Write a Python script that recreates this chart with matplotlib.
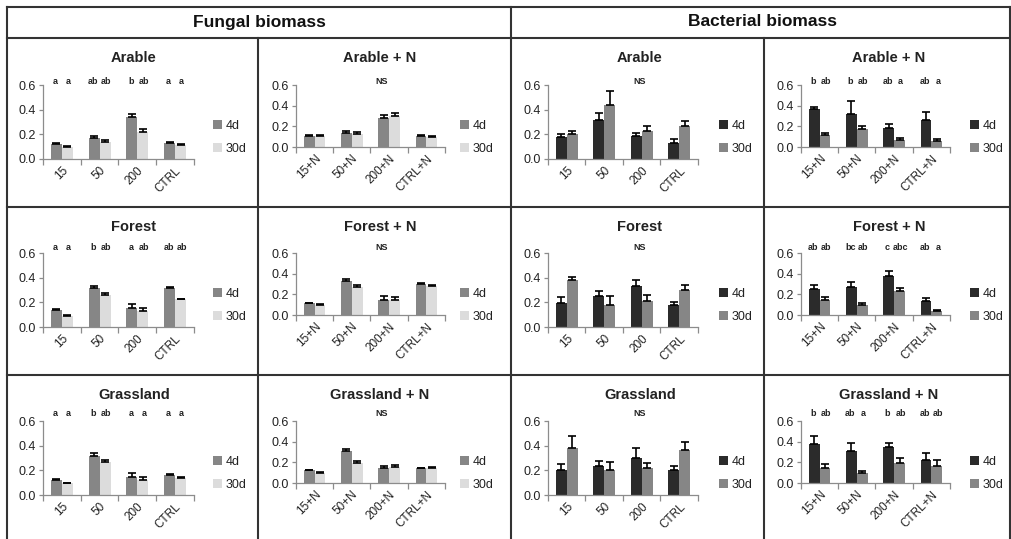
import matplotlib
matplotlib.use("Agg")
import matplotlib.pyplot as plt
import matplotlib.transforms as mtrans
from matplotlib.lines import Line2D
from matplotlib.ticker import FormatStrFormatter
import numpy as np

plt.rcParams['font.family'] = ['Liberation Sans', 'DejaVu Sans']

# categories / series
cats = ["15", "50", "200", "CTRL"]
cats_n = ["15+N", "50+N", "200+N", "CTRL+N"]
series = ["4d", "30d"]

# fungal biomass (mean, upper error)
fa_4d = [0.12, 0.17, 0.34, 0.13]
fa_4d_err = [0.010, 0.015, 0.025, 0.006]
fa_30d = [0.10, 0.14, 0.22, 0.115]
fa_30d_err = [0.006, 0.018, 0.025, 0.004]

fan_4d = [0.11, 0.14, 0.28, 0.11]
fan_4d_err = [0.008, 0.015, 0.030, 0.008]
fan_30d = [0.11, 0.13, 0.30, 0.10]
fan_30d_err = [0.008, 0.012, 0.028, 0.004]

ff_4d = [0.14, 0.32, 0.155, 0.32]
ff_4d_err = [0.006, 0.015, 0.030, 0.006]
ff_30d = [0.09, 0.26, 0.13, 0.225]
ff_30d_err = [0.005, 0.015, 0.025, 0.005]

ffn_4d = [0.115, 0.33, 0.146, 0.30]
ffn_4d_err = [0.005, 0.018, 0.035, 0.008]
ffn_30d = [0.10, 0.27, 0.143, 0.28]
ffn_30d_err = [0.006, 0.025, 0.033, 0.006]

fg_4d = [0.12, 0.32, 0.15, 0.16]
fg_4d_err = [0.010, 0.018, 0.030, 0.008]
fg_30d = [0.095, 0.265, 0.12, 0.14]
fg_30d_err = [0.005, 0.015, 0.025, 0.005]

fgn_4d = [0.122, 0.314, 0.144, 0.144]
fgn_4d_err = [0.008, 0.015, 0.022, 0.006]
fgn_30d = [0.10, 0.19, 0.154, 0.15]
fgn_30d_err = [0.006, 0.025, 0.022, 0.006]

# bacterial biomass
ba_4d = [0.18, 0.32, 0.19, 0.13]
ba_4d_err = [0.025, 0.050, 0.020, 0.035]
ba_30d = [0.20, 0.44, 0.23, 0.27]
ba_30d_err = [0.030, 0.110, 0.040, 0.040]

ban_4d = [0.365, 0.317, 0.184, 0.26]
ban_4d_err = [0.022, 0.125, 0.040, 0.075]
ban_30d = [0.114, 0.17, 0.063, 0.06]
ban_30d_err = [0.020, 0.030, 0.027, 0.020]

bf_4d = [0.194, 0.25, 0.33, 0.175]
bf_4d_err = [0.048, 0.040, 0.050, 0.025]
bf_30d = [0.38, 0.175, 0.21, 0.30]
bf_30d_err = [0.025, 0.075, 0.050, 0.040]

bfn_4d = [0.25, 0.27, 0.378, 0.138]
bfn_4d_err = [0.045, 0.050, 0.045, 0.022]
bfn_30d = [0.144, 0.10, 0.23, 0.042]
bfn_30d_err = [0.030, 0.020, 0.030, 0.010]

bg_4d = [0.206, 0.233, 0.30, 0.206]
bg_4d_err = [0.045, 0.043, 0.078, 0.027]
bg_30d = [0.38, 0.206, 0.22, 0.365]
bg_30d_err = [0.095, 0.064, 0.043, 0.061]

bgn_4d = [0.38, 0.308, 0.346, 0.222]
bgn_4d_err = [0.074, 0.079, 0.041, 0.064]
bgn_30d = [0.15, 0.095, 0.19, 0.165]
bgn_30d_err = [0.034, 0.025, 0.050, 0.057]

# significance letters (None -> "NS")
let_fa = [["a", "a"], ["ab", "ab"], ["b", "ab"], ["a", "a"]]
let_ff = [["a", "a"], ["b", "ab"], ["a", "ab"], ["ab", "ab"]]
let_fg = [["a", "a"], ["b", "ab"], ["a", "a"], ["a", "a"]]
let_ban = [["b", "ab"], ["b", "ab"], ["ab", "a"], ["ab", "a"]]
let_bfn = [["ab", "ab"], ["bc", "ab"], ["c", "abc"], ["ab", "a"]]
let_bgn = [["b", "ab"], ["ab", "a"], ["b", "ab"], ["ab", "ab"]]

FUNG = ("#868686", "#dcdcdc")
BACT = ("#2b2b2b", "#868686")

panels = [
    # row, col, title, labels, 4d, 4d err, 30d, 30d err, letters, colours
    (0, 0, "Arable", cats, fa_4d, fa_4d_err, fa_30d, fa_30d_err, let_fa, FUNG),
    (0, 1, "Arable + N", cats_n, fan_4d, fan_4d_err, fan_30d, fan_30d_err, None, FUNG),
    (0, 2, "Arable", cats, ba_4d, ba_4d_err, ba_30d, ba_30d_err, None, BACT),
    (0, 3, "Arable + N", cats_n, ban_4d, ban_4d_err, ban_30d, ban_30d_err, let_ban, BACT),
    (1, 0, "Forest", cats, ff_4d, ff_4d_err, ff_30d, ff_30d_err, let_ff, FUNG),
    (1, 1, "Forest + N", cats_n, ffn_4d, ffn_4d_err, ffn_30d, ffn_30d_err, None, FUNG),
    (1, 2, "Forest", cats, bf_4d, bf_4d_err, bf_30d, bf_30d_err, None, BACT),
    (1, 3, "Forest + N", cats_n, bfn_4d, bfn_4d_err, bfn_30d, bfn_30d_err, let_bfn, BACT),
    (2, 0, "Grassland", cats, fg_4d, fg_4d_err, fg_30d, fg_30d_err, let_fg, FUNG),
    (2, 1, "Grassland + N", cats_n, fgn_4d, fgn_4d_err, fgn_30d, fgn_30d_err, None, FUNG),
    (2, 2, "Grassland", cats, bg_4d, bg_4d_err, bg_30d, bg_30d_err, None, BACT),
    (2, 3, "Grassland + N", cats_n, bgn_4d, bgn_4d_err, bgn_30d, bgn_30d_err, let_bgn, BACT),
]

W, H = 1012, 539
fig = plt.figure(figsize=(W / 100, H / 100), dpi=100)


def fx(x):
    return x / W


def fy(y):
    return 1 - y / H


# layout in pixels
ax_left = [43, 296, 548, 801]
ax_right = [194, 445, 698, 950]
ax_height = [74, 62, 74, 62]
ax_top = [85, 253, 421]
title_x = [134, 380, 640, 889]
title_y = [58, 227, 395]
letter_y = [81, 248, 413]
ns_x = [None, 382, 640, None]
leg_x = [213, 460, 719, 970]

AXC = "#8c8c8c"
TXT = "#222222"
w = 0.29

for r, c, title, labels, m4, e4, m30, e30, letters, cols in panels:
    x = np.arange(len(labels))
    l, rt = ax_left[c], ax_right[c]
    t, h = ax_top[r], ax_height[c]
    ax = fig.add_axes([fx(l), fy(t + h), (rt - l) / W, h / H])
    b1 = ax.bar(x - w / 2, m4, w, color=cols[0], zorder=2)
    b2 = ax.bar(x + w / 2, m30, w, color=cols[1], zorder=2)
    ax.errorbar(x - w / 2, m4, yerr=[np.zeros(len(x)), e4], fmt="none",
                ecolor="black", elinewidth=1.2, capsize=3, capthick=1.2, zorder=3)
    ax.errorbar(x + w / 2, m30, yerr=[np.zeros(len(x)), e30], fmt="none",
                ecolor="black", elinewidth=1.2, capsize=3, capthick=1.2, zorder=3)
    ax.set_xlim(-0.5, 3.5)
    ax.set_ylim(0, 0.6)
    ax.set_yticks([0, 0.2, 0.4, 0.6])
    ax.yaxis.set_major_formatter(FormatStrFormatter("%.1f"))
    ax.set_xticks(np.arange(-0.5, 4, 1))
    ax.set_xticklabels([])
    ax.set_xticks(x, minor=True)
    ax.set_xticklabels(labels, minor=True, rotation=45, ha="right",
                       rotation_mode="anchor", fontsize=8.5, color=TXT)
    ax.tick_params(axis="x", which="major", length=4, color=AXC, width=0.9)
    ax.tick_params(axis="x", which="minor", length=0, pad=4)
    ax.tick_params(axis="y", length=3, color=AXC, width=0.9, labelsize=9,
                   labelcolor=TXT, pad=2)
    for s in ["top", "right"]:
        ax.spines[s].set_visible(False)
    for s in ["left", "bottom"]:
        ax.spines[s].set_color(AXC)
        ax.spines[s].set_linewidth(0.9)
    ax.patch.set_alpha(0)

    fig.text(fx(title_x[c]), fy(title_y[r]), title, ha="center", va="center",
             fontsize=10.5, fontweight="bold", color=TXT)

    tr = mtrans.blended_transform_factory(ax.transData, fig.transFigure)
    if letters is None:
        fig.text(fx(ns_x[c]), fy(letter_y[r]), "NS", ha="center", va="center",
                 fontsize=6.5, fontweight="bold", color=TXT)
    else:
        for i, pair in enumerate(letters):
            ax.text(x[i] - w / 2 - 0.03, fy(letter_y[r]), pair[0], transform=tr,
                    ha="center", va="center", fontsize=6.5, fontweight="bold",
                    color=TXT, clip_on=False)
            ax.text(x[i] + w / 2 + 0.03, fy(letter_y[r]), pair[1], transform=tr,
                    ha="center", va="center", fontsize=6.5, fontweight="bold",
                    color=TXT, clip_on=False)

    ax.legend([b1, b2], series, loc="center left",
              bbox_to_anchor=(fx(leg_x[c]), fy(t + 52.5)),
              bbox_transform=fig.transFigure, frameon=False, fontsize=9,
              handlelength=0.7, handleheight=0.7, handletextpad=0.3,
              labelspacing=0.85, borderpad=0, borderaxespad=0,
              labelcolor=TXT)

# header text
fig.text(fx(259), fy(22), "Fungal biomass", ha="center", va="center",
         fontsize=12.5, fontweight="bold", color="#111111")
fig.text(fx(763), fy(22), "Bacterial biomass", ha="center", va="center",
         fontsize=12.5, fontweight="bold", color="#111111")

# frame lines
LC = "#333333"
LW = 1.5
for yy in [7, 38, 207, 375]:
    fig.add_artist(Line2D([fx(7), fx(1010)], [fy(yy), fy(yy)], color=LC, lw=LW))
for xx in [7, 511, 1010]:
    fig.add_artist(Line2D([fx(xx), fx(xx)], [fy(7), fy(539)], color=LC, lw=LW))
for xx in [258, 764]:
    fig.add_artist(Line2D([fx(xx), fx(xx)], [fy(38), fy(539)], color=LC, lw=LW))

fig.savefig("out.png", dpi=100, facecolor="white")
